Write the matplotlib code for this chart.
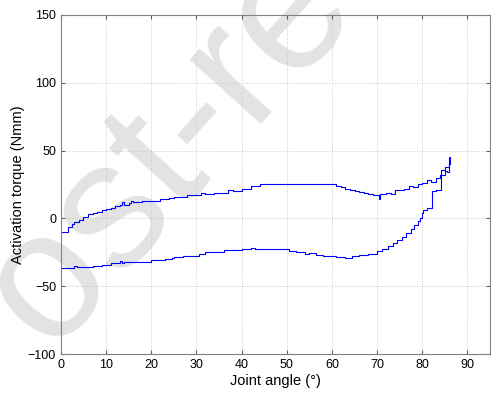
import matplotlib
matplotlib.use("Agg")
import matplotlib.pyplot as plt

plt.rcParams['font.family'] = ['Liberation Sans', 'DejaVu Sans']

# Loading branch (angle increasing)
up_angle = [0, 1.5, 1.6, 2.5, 3, 4, 5, 6, 7, 8, 9, 10, 11, 12, 13, 13.5, 14, 15, 15.5, 16,
            17, 18, 19, 20, 22, 24, 25, 26, 28, 30, 31, 32, 34, 36, 37, 38, 40, 42, 44, 46,
            48, 50, 52, 54, 56, 58, 60, 61, 62, 63, 64, 65, 66, 67, 68, 69, 70, 70.5, 70.6,
            71, 72, 73, 74, 75, 76, 77, 78, 79, 80, 81, 82, 83, 84, 85, 85.5, 86, 86.2]
up_torque = [-10, -10, -6, -4, -3, -1, 1, 3, 4, 5, 6, 7, 8, 9, 10, 12, 10, 11, 13, 12,
             12, 13, 12.5, 13, 14, 15, 16, 16, 17, 17, 19, 18, 19, 19, 21, 20, 22, 24, 25, 25,
             25, 25, 25.5, 25, 25, 25, 25, 24, 23, 22, 21, 20, 19.5, 18.5, 18, 17.5, 17, 14, 18,
             18, 18.5, 18, 21, 21, 22, 24, 23, 25, 26, 28, 27, 30, 32, 35, 34, 40, 45]

# Unloading branch (angle decreasing)
down_angle = [86.2, 86, 85, 84.2, 84.2, 83, 82.2, 82.2, 81, 80.2, 80, 79.5, 79, 78.2, 77.5,
              76.5, 75.5, 74.5, 73.5, 72.5, 71, 70, 68, 66, 64.5, 63, 61, 60, 58, 56.5, 56.5,
              55, 54, 52, 50.5, 50.5, 48, 46, 44, 43, 42, 40, 38, 36, 34, 32, 30.5, 29, 27,
              25, 24.5, 23, 21, 20, 18, 16, 14, 13.5, 13, 11, 9, 7, 5, 4, 3.5, 3, 1, 0]
down_torque = [45, 38, 36, 33, 21, 20, 16, 8, 6, 4, 0, -2, -5, -8, -11,
               -14, -16, -18, -20, -22.5, -24, -26, -27, -28, -29.5, -28.5, -28, -27.5, -27, -27, -25.5,
               -26, -25, -24, -23.5, -22.5, -22.5, -22.5, -22.5, -21.5, -22.5, -23, -23.5, -24.5, -25, -26.5, -27.5, -28, -28.5,
               -29, -30, -30.5, -31, -32, -32, -32.5, -33, -31.5, -33, -34, -35, -35.5, -35.5, -36, -35, -36.5, -36.5, -37]

x_ticks = [0, 10, 20, 30, 40, 50, 60, 70, 80, 90]
y_ticks = [-100, -50, 0, 50, 100, 150]

fig = plt.figure(figsize=(4.91, 3.94), dpi=100)
ax = fig.add_axes([0.124, 0.1015, 0.874, 0.8605])

fig.text(-0.067, -0.102, "Post-re", fontsize=130, rotation=48, color='#e3e3e3',
         ha='left', va='baseline', rotation_mode='anchor', zorder=-1)
ax.patch.set_alpha(0)

ax.plot(up_angle + down_angle, up_torque + down_torque, color='#0000ff', lw=0.8,
        drawstyle='steps-post')

ax.set_xlim(0, 95)
ax.set_ylim(-100, 150)
ax.set_xticks(x_ticks)
ax.set_yticks(y_ticks)
ax.grid(True, linestyle=':', color='#c8c8c8', lw=0.7)
ax.tick_params(direction='in', top=True, right=True, labelsize=9, length=3,
               color='#606060')
for s in ax.spines.values():
    s.set_color('#808080')
    s.set_linewidth(0.8)
ax.set_xlabel("Joint angle (°)", fontsize=10.5, labelpad=2)
ax.set_ylabel("Activation torque (Nmm)", fontsize=10.5, labelpad=2)

fig.savefig("out.png", dpi=100)
